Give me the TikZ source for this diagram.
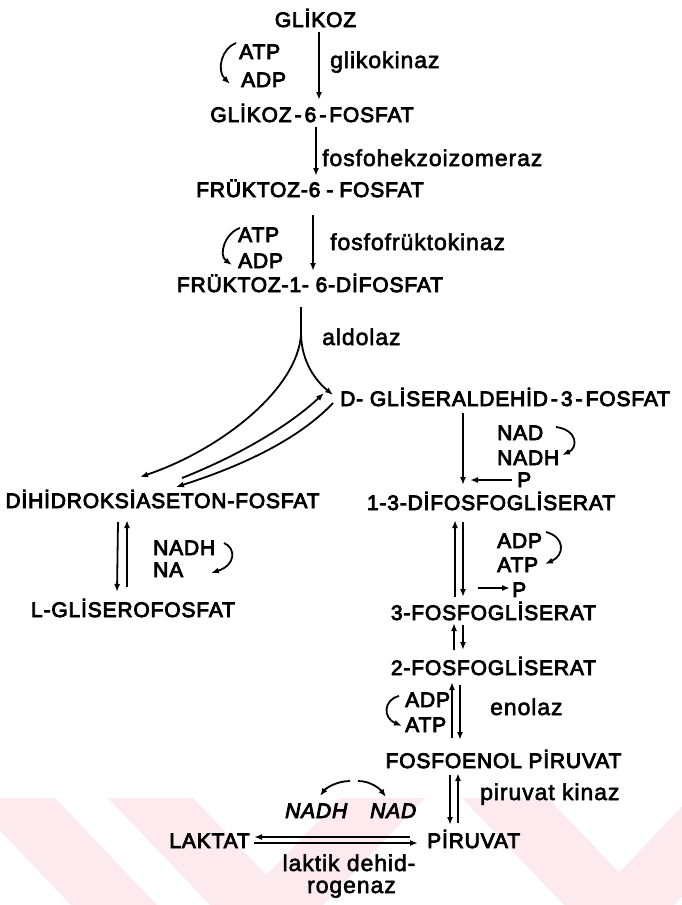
\documentclass[tikz,border=0pt]{standalone}
\usepackage{fontspec}
\setmainfont{Liberation Sans}
\newfontfamily\capsfont{Liberation Sans}[LetterSpace=4,FakeBold=4]
\newfontfamily\lowfont{Liberation Sans}[LetterSpace=4,FakeBold=2.4]
\usetikzlibrary{arrows.meta,calc}
\definecolor{wmpink}{RGB}{252,234,238}
% loose spacing around hyphens in compound names
\newcommand{\hsp}{\kern3pt}
\tikzset{
  lab/.style={inner sep=0pt, font=\capsfont\fontsize{21}{24}\selectfont},
  cof/.style={inner sep=0pt, font=\capsfont\fontsize{21}{24}\selectfont},
  cofit/.style={inner sep=0pt, font=\capsfont\itshape\fontsize{21}{24}\selectfont},
  enz/.style={inner sep=0pt, font=\lowfont\fontsize{23}{26}\selectfont},
  arr/.style={line width=1.8pt, -{Latex[length=8pt,width=6pt]}},
  wm/.style={fill=wmpink, draw=none}
}
\begin{document}
\begin{tikzpicture}[x=1pt,y=-1pt]
\useasboundingbox (0,0) rectangle (682,905);

% faint chevron band along the bottom
\begin{scope}
  \clip (0,798) rectangle (682,905);
  \fill[wm] (-31,798) -- (55,798) -- (157,905) -- (71,905) -- cycle;
  \fill[wm] (108,798) -- (193,798) -- (295,905) -- (210,905) -- cycle;
  \fill[wm] (340,798) -- (425,798) -- (323,905) -- (238,905) -- cycle;
  \fill[wm] (462,798) -- (548,798) -- (650,905) -- (564,905) -- cycle;
  \fill[wm] (690,798) -- (776,798) -- (674,905) -- (588,905) -- cycle;
\end{scope}

% metabolites
\node[lab, anchor=base] (glu)  at (315.5,27) {GLİKOZ};
\node[lab, anchor=base] (g6p)  at (312,122) {GLİKOZ\hsp-\hsp6\hsp-\hsp FOSFAT};
\node[lab, anchor=base] (f6p)  at (310,197) {FRÜKTOZ-6\hsp\hsp-\hsp\hsp FOSFAT};
\node[lab, anchor=base] (f16)  at (310,292) {FRÜKTOZ-1- 6-DİFOSFAT};
\node[lab, anchor=base west] (gap) at (340,406) {D- GLİSERALDEHİD\hsp-\hsp3\hsp-\hsp FOSFAT};
\node[lab, anchor=base] (dhap) at (162.5,508) {DİHİDROKSİASETON-FOSFAT};
\node[lab, anchor=base] (dpg)  at (491,510) {1-3-DİFOSFOGLİSERAT};
\node[lab, anchor=base] (lgp)  at (133,617) {L-GLİSEROFOSFAT};
\node[lab, anchor=base] (pg3)  at (493.5,620) {3-FOSFOGLİSERAT};
\node[lab, anchor=base] (pg2)  at (493.5,675) {2-FOSFOGLİSERAT};
\node[lab, anchor=base] (pep)  at (503.5,768) {FOSFOENOL PİRUVAT};
\node[lab, anchor=base east] (lak) at (250,848) {LAKTAT};
\node[lab, anchor=base west] (pyr) at (427,848) {PİRUVAT};

% enzymes
\node[enz, anchor=base west] (gk)  at (330,68) {glikokinaz};
\node[enz, anchor=base west] (fhi) at (322,166) {fosfohekzoizomeraz};
\node[enz, anchor=base west] (ffk) at (330,250) {fosfofrüktokinaz};
\node[enz, anchor=base west] (ald) at (322,345) {aldolaz};
\node[enz, anchor=base west] (eno) at (490,715) {enolaz};
\node[enz, anchor=base west] (pk)  at (480,800) {piruvat kinaz};
\node[enz, anchor=base] (ldh1) at (349,871) {laktik dehid-};
\node[enz, anchor=base] (ldh2) at (351.5,893) {rogenaz};

% cofactors
\node[cof, anchor=base west] (atp1)  at (239,59) {ATP};
\node[cof, anchor=base west] (adp1)  at (241,87) {ADP};
\node[cof, anchor=base west] (atp2)  at (238,242) {ATP};
\node[cof, anchor=base west] (adp2)  at (238,268) {ADP};
\node[cof, anchor=base west] (nad1)  at (497,440) {NAD};
\node[cof, anchor=base west] (nadh1) at (497,465) {NADH};
\node[cof, anchor=base west] (p1)    at (517,487) {P};
\node[cof, anchor=base west] (nadh2) at (153,555) {NADH};
\node[cof, anchor=base west] (na)    at (153,577) {NA};
\node[cof, anchor=base west] (adp3)  at (497,548) {ADP};
\node[cof, anchor=base west] (atp3)  at (497,572) {ATP};
\node[cof, anchor=base west] (p2)    at (512,597) {P};
\node[cof, anchor=base west] (adp4)  at (405,707) {ADP};
\node[cof, anchor=base west] (atp4)  at (405,732) {ATP};
\node[cofit, anchor=base west] (nadh3) at (285,818) {NADH};
\node[cofit, anchor=base west] (nad3)  at (370,818) {NAD};

% main chain
\draw[arr] ($(glu.base)+(3.5,5)$) -- ($(g6p.base)+(7,-22)$);
\draw[arr] ($(g6p.base)+(4,5)$) -- ($(f6p.base)+(6,-21)$);
\draw[arr] ($(f6p.base)+(3,18)$) -- ($(f16.base)+(3,-21)$);

% aldolase split
\coordinate (split) at ($(f16.base)+(-9,43)$);
\draw[arr] ($(f16.base)+(-9,15)$) -- (split)
   .. controls +(-4,55) and +(80,-27) .. ($(dhap.base)+(-22.5,-31)$);
\draw[arr] (split) .. controls +(1,27) and +(-18,-15) .. ($(gap.base west)+(-7,-11)$);

% triose phosphate isomerisation
\draw[arr] ($(dhap.base)+(19.5,-30)$) .. controls +(58,-23) and +(-34,32) .. ($(gap.base west)+(-16,-13)$);
\draw[arr] ($(gap.base west)+(-7,-3)$) .. controls +(-33,35) and +(69,-22) .. ($(dhap.base)+(13.5,-21)$);

% DHAP <-> L-glycerophosphate
\draw[arr] ($(dhap.base)+(-44.5,14)$) -- ($(lgp.base)+(-16,-25)$);
\draw[arr] ($(lgp.base)+(-6,-30)$) -- ($(dhap.base)+(-35.5,12)$);

% lower chain
\draw[arr] ($(gap.base west)+(123,7)$) -- ($(dpg.base)+(-28,-25)$);
\draw[arr] ($(p1.base west)+(-5,-7)$) -- ($(p1.base west)+(-47,-7)$);
\draw[arr] ($(pg3.base)+(-38.5,-23)$) -- ($(dpg.base)+(-36,10)$);
\draw[arr] ($(dpg.base)+(-28,12)$) -- ($(pg3.base)+(-30.5,-23)$);
\draw[arr] ($(p2.base west)+(-34,-9)$) -- ($(p2.base west)+(-2,-9)$);
\draw[arr] ($(pg2.base)+(-39.5,-25)$) -- ($(pg3.base)+(-39.5,3)$);
\draw[arr] ($(pg3.base)+(-30.5,5)$) -- ($(pg2.base)+(-30.5,-25)$);
\draw[arr] ($(pep.base)+(-51.5,-30)$) -- ($(pg2.base)+(-41.5,7)$);
\draw[arr] ($(pg2.base)+(-33.5,10)$) -- ($(pep.base)+(-43.5,-28)$);
\draw[arr] ($(pep.base)+(-53.5,7)$) -- ($(pyr.base west)+(23,-23)$);
\draw[arr] ($(pyr.base west)+(31,-25)$) -- ($(pep.base)+(-45.5,5)$);

% lactate dehydrogenase
\draw[arr] ($(pyr.base west)+(-17,-11)$) -- ($(lak.base east)+(4,-11)$);
\draw[arr] ($(lak.base east)+(4,-5)$) -- ($(pyr.base west)+(-9,-5)$);

% cofactor loops
\draw[arr] ($(atp1.base west)+(-3,-16)$) .. controls +(-14,5) and +(-14,-14) .. ($(adp1.base west)+(-11,-3)$);
\draw[arr] ($(atp2.base west)+(2,-14)$) .. controls +(-15,5) and +(-14,-10) .. ($(adp2.base west)+(-6,-3)$);
\draw[arr] ($(nad1.base west)+(59,-13)$) .. controls +(22,3) and +(16,-7) .. ($(nadh1.base west)+(65,-10)$);
\draw[arr] ($(nadh2.base west)+(71,-12)$) .. controls +(12,5) and +(25,-8) .. ($(na.base west)+(58,-4)$);
\draw[arr] ($(adp3.base west)+(49,-16)$) .. controls +(19,5) and +(20,-9) .. ($(atp3.base west)+(48,-8)$);
\draw[arr] ($(adp4.base west)+(-6,-11)$) .. controls +(-16,4) and +(-19,-8) .. ($(atp4.base west)+(-3,-6)$);
\draw[arr] ($(nadh3.base west)+(65,-37)$) .. controls +(-13,0) and +(6,-8) .. ($(nadh3.base west)+(35,-22)$);
\draw[arr] ($(nad3.base west)+(-12,-37)$) .. controls +(13,0) and +(-6,-8) .. ($(nad3.base west)+(16,-21)$);
\end{tikzpicture}
\end{document}
